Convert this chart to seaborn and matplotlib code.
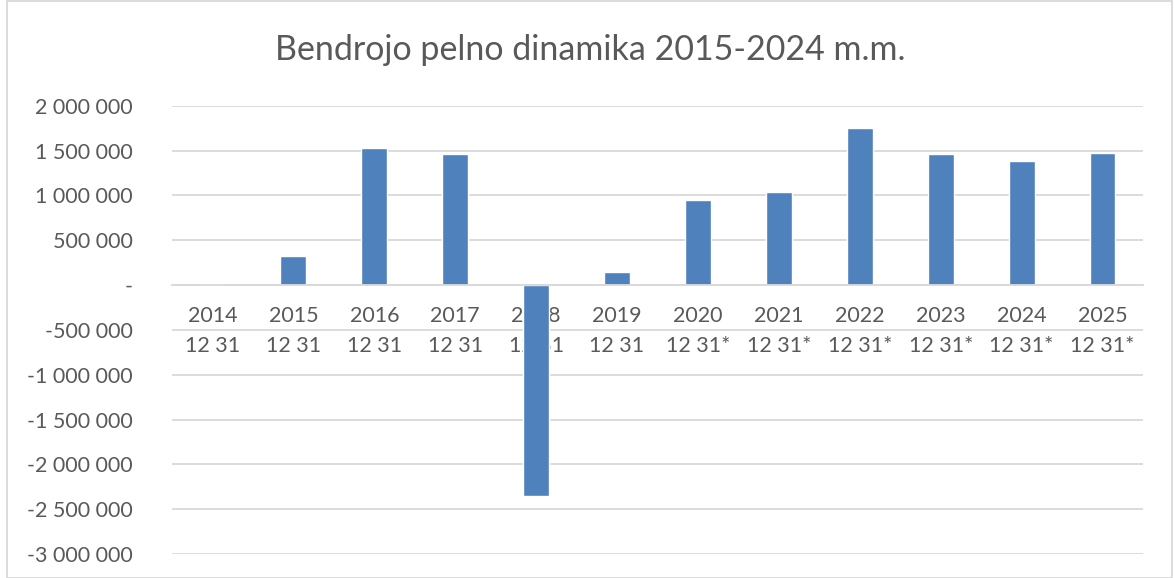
import matplotlib
matplotlib.use("Agg")
import matplotlib.pyplot as plt
from matplotlib.ticker import FuncFormatter, MultipleLocator
from matplotlib.patches import Rectangle
import seaborn as sns
import pandas as pd

years = ["2014", "2015", "2016", "2017", "2018", "2019", "2020", "2021", "2022", "2023", "2024", "2025"]
dates = ["12 31", "12 31", "12 31", "12 31", "12 31", "12 31", "12 31*", "12 31*", "12 31*", "12 31*", "12 31*", "12 31*"]
values = [0, 324000, 1524000, 1460000, -2353000, 150000, 950000, 1036000, 1747000, 1457000, 1379000, 1472000]
title = "Bendrojo pelno dinamika 2015-2024 m.m."

labels = [f"{y}\n{d}" for y, d in zip(years, dates)]
df = pd.DataFrame({"label": labels, "value": values})

sns.set_theme(style="whitegrid")
plt.rcParams["font.family"] = ["Lato", "DejaVu Sans"]

fig = plt.figure(figsize=(11.74, 5.78), dpi=100)
ax = fig.add_axes([0.1465, 0.0415, 0.8271, 0.7755])

sns.barplot(data=df, x="label", y="value", order=labels, color="#4F81BD",
            width=0.32, saturation=1, ax=ax)

ax.set_ylim(-3000000, 2000000)
ax.set_xlim(-0.5, len(labels) - 0.5)
ax.yaxis.set_major_locator(MultipleLocator(500000))

def fmt(v, pos):
    if abs(v) < 1:
        return "-"
    s = f"{abs(int(round(v))):,}".replace(",", " ")
    return ("-" if v < 0 else "") + s

ax.yaxis.set_major_formatter(FuncFormatter(fmt))
ax.set_xlabel("")
ax.set_ylabel("")
ax.grid(axis="y", color="#D9D9D9", linewidth=1.3)
ax.grid(axis="x", visible=False)
ax.set_axisbelow(True)

for side in ["left", "right", "top"]:
    ax.spines[side].set_visible(False)
ax.spines["bottom"].set_position(("data", 0))
ax.spines["bottom"].set_color("#D9D9D9")
ax.spines["bottom"].set_linewidth(1.3)

ax.tick_params(axis="x", length=0, pad=15, labelsize=15.5, labelcolor="#595959")
ax.tick_params(axis="y", length=0, pad=28, labelsize=15.5, labelcolor="#595959")
ax.set_xticks(range(len(labels)))
ax.set_xticklabels(labels, linespacing=1.6)

fig.text(0.503, 0.913, title, ha="center", va="center", fontsize=24.5, color="#595959")

fig.patches.append(Rectangle((0.006, 0.0), 0.992, 0.999, transform=fig.transFigure,
                             fill=False, edgecolor="#D9D9D9", linewidth=1.3))

fig.savefig("out.png", dpi=100)
